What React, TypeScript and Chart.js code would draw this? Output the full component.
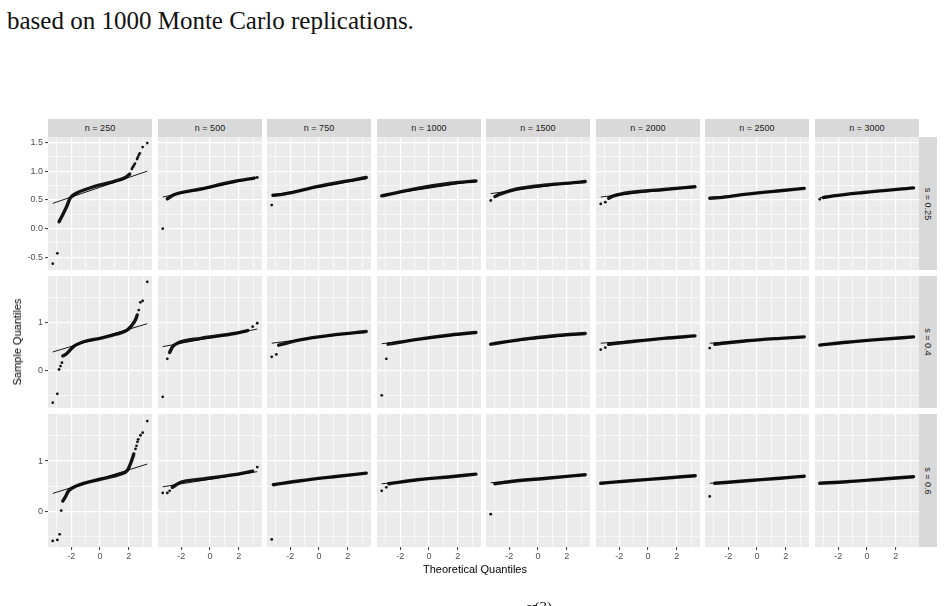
import React, { useEffect, useRef } from "react";
import { Chart, registerables } from "chart.js";

Chart.register(...registerables);

// Facet labels
const sampleSizeLabels = ["n = 250", "n = 500", "n = 750", "n = 1000", "n = 1500", "n = 2000", "n = 2500", "n = 3000"];
const shapeLabels = ["s = 0.25", "s = 0.4", "s = 0.6"];

// Shared theoretical-quantile axis
const xMajorTicks = [-2, 0, 2];
const xMinorTicks = [-3, -1, 1, 3];
const xRange = [-3.62, 3.62];

// Free sample-quantile axis per row
const yMajorTicks = [[-0.5, 0, 0.5, 1, 1.5], [0, 1], [0, 1]];
const yMinorTicks = [[-0.25, 0.25, 0.75, 1.25], [-0.5, 0.5, 1.5], [-0.5, 0.5, 1.5]];
const yTickLabels = [["-0.5", "0.0", "0.5", "1.0", "1.5"], ["0", "1"], ["0", "1"]];
const yRanges = [[-0.72, 1.595], [-0.76, 1.95], [-0.7, 1.93]];

type Pt = [number, number];

// s = 0.25 : dense central part of each QQ cloud, isolated tail points, reference line
const bodyS025: Pt[][] = [
  [[-2.85, 0.12], [-2.66, 0.21], [-2.31, 0.39], [-2.08, 0.53], [-1.61, 0.62], [-0.91, 0.69], [0, 0.76], [0.95, 0.82], [1.77, 0.89], [2.07, 0.95]],
  [[-2.97, 0.52], [-2.51, 0.59], [-0.64, 0.69], [1.69, 0.82], [3.08, 0.88]],
  [[-3.2, 0.58], [-2.47, 0.6], [-0.14, 0.73], [2.42, 0.85], [3.29, 0.89]],
  [[-3.29, 0.57], [-2.91, 0.59], [-0.81, 0.7], [1.52, 0.79], [3.27, 0.83]],
  [[-3.0, 0.56], [-2.64, 0.6], [-1.49, 0.69], [0.61, 0.76], [2.94, 0.81], [3.29, 0.82]],
  [[-2.74, 0.53], [-2.39, 0.57], [-1.22, 0.63], [1.1, 0.68], [3.27, 0.73]],
  [[-3.29, 0.53], [-2.59, 0.54], [-0.72, 0.6], [1.61, 0.66], [3.29, 0.7]],
  [[-3.05, 0.54], [-2.36, 0.57], [-0.26, 0.63], [3.24, 0.71]],
];
const tailS025: Pt[][] = [
  [[-3.29, -0.61], [-2.97, -0.43], [2.22, 1.04], [2.28, 1.07], [2.36, 1.1], [2.43, 1.13], [2.58, 1.21], [2.63, 1.24], [2.7, 1.28], [2.77, 1.31], [2.97, 1.42], [3.29, 1.49]],
  [[-3.29, 0.0], [3.29, 0.89]],
  [[-3.29, 0.41]],
  [],
  [[-3.29, 0.49]],
  [[-3.29, 0.43], [-2.97, 0.46]],
  [],
  [[-3.29, 0.51]],
];
const refS025: Pt[][] = [
  [[-3.29, 0.44], [3.29, 1.0]],
  [[-3.29, 0.55], [3.29, 0.89]],
  [[-3.29, 0.58], [3.29, 0.87]],
  [[-3.29, 0.58], [3.29, 0.83]],
  [[-3.29, 0.61], [3.29, 0.83]],
  [[-3.29, 0.55], [3.29, 0.73]],
  [[-3.29, 0.54], [3.29, 0.7]],
  [[-3.29, 0.54], [3.29, 0.71]],
];

// s = 0.4
const bodyS04: Pt[][] = [
  [[-2.59, 0.31], [-2.31, 0.36], [-1.85, 0.5], [-1.15, 0.6], [0, 0.67], [1.19, 0.76], [1.89, 0.84], [2.17, 0.92], [2.47, 1.05], [2.59, 1.15]],
  [[-2.81, 0.38], [-2.62, 0.49], [-2.27, 0.57], [-0.64, 0.67], [1.69, 0.77], [2.62, 0.83]],
  [[-2.81, 0.53], [-1.31, 0.64], [1.02, 0.74], [3.29, 0.81]],
  [[-2.85, 0.55], [-0.81, 0.65], [1.52, 0.74], [3.27, 0.79]],
  [[-3.29, 0.55], [-2.89, 0.57], [-0.56, 0.67], [1.77, 0.74], [3.29, 0.77]],
  [[-2.74, 0.55], [-1.22, 0.6], [1.1, 0.67], [3.27, 0.72]],
  [[-2.94, 0.55], [-0.72, 0.62], [1.61, 0.67], [3.29, 0.7]],
  [[-3.29, 0.53], [-1.42, 0.59], [0.91, 0.65], [3.24, 0.7]],
];
const tailS04: Pt[][] = [
  [[-3.29, -0.65], [-2.97, -0.47], [-2.85, 0.03], [-2.75, 0.1], [-2.65, 0.17], [2.7, 1.25], [2.81, 1.41], [2.97, 1.44], [3.29, 1.83]],
  [[-3.29, -0.53], [-2.97, 0.25], [2.97, 0.91], [3.29, 0.98]],
  [[-3.29, 0.29], [-2.97, 0.34]],
  [[-3.29, -0.5], [-2.97, 0.25]],
  [],
  [[-3.29, 0.44], [-2.97, 0.48]],
  [[-3.29, 0.47]],
  [],
];
const refS04: Pt[][] = [
  [[-3.29, 0.39], [3.29, 0.97]],
  [[-3.29, 0.5], [3.29, 0.86]],
  [[-3.29, 0.57], [3.29, 0.81]],
  [[-3.29, 0.56], [3.29, 0.79]],
  [[-3.29, 0.56], [3.29, 0.77]],
  [[-3.29, 0.57], [3.29, 0.72]],
  [[-3.29, 0.57], [3.29, 0.7]],
  [[-3.29, 0.54], [3.29, 0.7]],
];

// s = 0.6
const bodyS06: Pt[][] = [
  [[-2.59, 0.21], [-2.43, 0.28], [-2.19, 0.41], [-1.61, 0.51], [0, 0.64], [1.42, 0.74], [1.89, 0.81], [2.07, 0.91], [2.24, 1.04], [2.35, 1.14]],
  [[-2.62, 0.48], [-2.04, 0.58], [-0.64, 0.64], [1.69, 0.73], [2.97, 0.8]],
  [[-3.17, 0.53], [-1.31, 0.61], [1.02, 0.69], [3.29, 0.76]],
  [[-2.8, 0.55], [-0.81, 0.63], [1.52, 0.69], [3.27, 0.74]],
  [[-3.0, 0.55], [-1.73, 0.6], [0.61, 0.66], [3.29, 0.73]],
  [[-3.29, 0.56], [-1.22, 0.61], [1.1, 0.66], [3.29, 0.71]],
  [[-2.94, 0.56], [-0.72, 0.61], [1.61, 0.66], [3.29, 0.7]],
  [[-3.29, 0.56], [-1.42, 0.59], [0.91, 0.64], [3.24, 0.69]],
];
const tailS06: Pt[][] = [
  [[-3.29, -0.58], [-2.97, -0.56], [-2.81, -0.45], [-2.7, 0.02], [2.47, 1.24], [2.54, 1.3], [2.61, 1.38], [2.66, 1.43], [2.82, 1.51], [2.97, 1.56], [3.29, 1.79]],
  [[-3.29, 0.37], [-2.97, 0.37], [-2.81, 0.41], [3.29, 0.88]],
  [[-3.29, -0.55]],
  [[-3.29, 0.41], [-2.97, 0.48]],
  [[-3.29, -0.05]],
  [],
  [[-3.29, 0.3]],
  [],
];
const refS06: Pt[][] = [
  [[-3.29, 0.36], [3.29, 0.94]],
  [[-3.29, 0.49], [3.29, 0.79]],
  [[-3.29, 0.54], [3.29, 0.76]],
  [[-3.29, 0.55], [3.29, 0.75]],
  [[-3.29, 0.57], [3.29, 0.73]],
  [[-3.29, 0.56], [3.29, 0.71]],
  [[-3.29, 0.56], [3.29, 0.7]],
  [[-3.29, 0.56], [3.29, 0.69]],
];

const bodyByRow = [bodyS025, bodyS04, bodyS06];
const tailByRow = [tailS025, tailS04, tailS06];
const refByRow = [refS025, refS04, refS06];

// Layout (px)
const PANEL_W = 104;
const colLeft = (c: number) => Math.round(48 + c * 109.5);
const ROW_TOP = [137, 276, 414];
const ROW_H = [133, 132, 133];
const Y_AXIS_W = 48;
const X_AXIS_H = 22;
const STRIP_TOP = 119;
const STRIP_H = 18;

const SANS = "'Liberation Sans', Arial, Helvetica, sans-serif";

const near = (list: number[], v: number) => list.some((m) => Math.abs(m - v) < 1e-9);

const panelBackground = {
  id: "panelBackground",
  beforeDraw(chart: any) {
    const { ctx, chartArea: a } = chart;
    ctx.save();
    ctx.fillStyle = "#EBEBEB";
    ctx.fillRect(a.left, a.top, a.right - a.left, a.bottom - a.top);
    ctx.restore();
  },
};

const toXY = (pts: Pt[]) => pts.map(([x, y]) => ({ x, y }));

function Panel({ row, col }: { row: number; col: number }) {
  const ref = useRef<HTMLCanvasElement | null>(null);
  const isLeft = col === 0;
  const isBottom = row === 2;
  const left = isLeft ? colLeft(0) - Y_AXIS_W : colLeft(col);
  const width = PANEL_W + (isLeft ? Y_AXIS_W : 0);
  const height = ROW_H[row] + (isBottom ? X_AXIS_H : 0);

  useEffect(() => {
    if (!ref.current) return;
    const yMaj = yMajorTicks[row];
    const yMin = yMinorTicks[row];
    const yAll = [...yMaj, ...yMin].sort((a, b) => a - b);
    const xAll = [...xMajorTicks, ...xMinorTicks].sort((a, b) => a - b);

    const chart = new Chart(ref.current, {
      type: "scatter",
      data: {
        datasets: [
          {
            type: "line",
            data: toXY(refByRow[row][col]),
            borderColor: "#000000",
            borderWidth: 0.9,
            pointRadius: 0,
            clip: false,
          } as any,
          {
            type: "line",
            data: toXY(bodyByRow[row][col]),
            borderColor: "#141414",
            borderWidth: 3.4,
            pointRadius: 0,
            cubicInterpolationMode: "monotone",
            borderCapStyle: "round",
            borderJoinStyle: "round",
            clip: false,
          } as any,
          {
            data: toXY(tailByRow[row][col]),
            backgroundColor: "#141414",
            borderWidth: 0,
            pointRadius: 1.4,
            clip: false,
          } as any,
        ],
      },
      options: {
        animation: false,
        responsive: false,
        devicePixelRatio: 1,
        events: [],
        layout: { padding: 0, autoPadding: false },
        plugins: { legend: { display: false }, tooltip: { enabled: false } },
        scales: {
          x: {
            type: "linear",
            min: xRange[0],
            max: xRange[1],
            afterBuildTicks: (s: any) => {
              s.ticks = xAll.map((v) => ({ value: v }));
            },
            afterFit: (s: any) => {
              s.height = isBottom ? X_AXIS_H : 0;
              s.paddingLeft = 0;
              s.paddingRight = 0;
              s.paddingTop = 0;
              s.paddingBottom = 0;
            },
            border: { display: false },
            grid: {
              color: "#FFFFFF",
              lineWidth: (ctx: any) => (ctx.tick && near(xMajorTicks, ctx.tick.value) ? 1.2 : 0.6),
              drawTicks: isBottom,
              tickLength: 3,
              tickWidth: 1,
              tickColor: (ctx: any) => (ctx.tick && near(xMajorTicks, ctx.tick.value) ? "#333333" : "rgba(0,0,0,0)"),
            },
            ticks: {
              display: isBottom,
              autoSkip: false,
              maxRotation: 0,
              minRotation: 0,
              padding: 1,
              color: "#4D4D4D",
              font: { family: SANS, size: 9 },
              callback: (v: any) => (near(xMajorTicks, Number(v)) ? String(v) : ""),
            },
          },
          y: {
            type: "linear",
            min: yRanges[row][0],
            max: yRanges[row][1],
            afterBuildTicks: (s: any) => {
              s.ticks = yAll.map((v) => ({ value: v }));
            },
            afterFit: (s: any) => {
              s.width = isLeft ? Y_AXIS_W : 0;
              s.paddingLeft = 0;
              s.paddingRight = 0;
              s.paddingTop = 0;
              s.paddingBottom = 0;
            },
            border: { display: false },
            grid: {
              color: "#FFFFFF",
              lineWidth: (ctx: any) => (ctx.tick && near(yMaj, ctx.tick.value) ? 1.2 : 0.6),
              drawTicks: isLeft,
              tickLength: 3,
              tickWidth: 1,
              tickColor: (ctx: any) => (ctx.tick && near(yMaj, ctx.tick.value) ? "#333333" : "rgba(0,0,0,0)"),
            },
            ticks: {
              display: isLeft,
              autoSkip: false,
              padding: 2,
              color: "#4D4D4D",
              font: { family: SANS, size: 9 },
              callback: (v: any) => {
                const i = yMaj.findIndex((m) => Math.abs(m - Number(v)) < 1e-9);
                return i >= 0 ? yTickLabels[row][i] : "";
              },
            },
          },
        },
      },
      plugins: [panelBackground],
    } as any);
    return () => chart.destroy();
  }, [row, col]);

  return (
    <div style={{ position: "absolute", left, top: ROW_TOP[row], width, height }}>
      <canvas ref={ref} width={width} height={height} style={{ display: "block", width, height }} />
    </div>
  );
}

export default function App() {
  return (
    <div
      style={{
        position: "fixed",
        left: 0,
        top: 0,
        width: 947,
        height: 606,
        overflow: "hidden",
        background: "#FFFFFF",
      }}
    >
      <div
        style={{
          position: "absolute",
          left: 7,
          top: 8,
          fontFamily: "'Liberation Serif', 'DejaVu Serif', serif",
          fontSize: 25,
          lineHeight: "25px",
          color: "#111",
          whiteSpace: "nowrap",
        }}
      >
        based on 1000 Monte Carlo replications.
      </div>

      {sampleSizeLabels.map((label, c) => (
        <div
          key={label}
          style={{
            position: "absolute",
            left: colLeft(c),
            top: STRIP_TOP,
            width: PANEL_W,
            height: STRIP_H,
            background: "#D9D9D9",
            color: "#1A1A1A",
            fontFamily: SANS,
            fontSize: 9,
            lineHeight: `${STRIP_H}px`,
            textAlign: "center",
          }}
        >
          {label}
        </div>
      ))}

      {shapeLabels.map((label, r) => (
        <div
          key={label}
          style={{
            position: "absolute",
            left: colLeft(7) + PANEL_W,
            top: ROW_TOP[r],
            width: STRIP_H,
            height: ROW_H[r],
            background: "#D9D9D9",
          }}
        >
          <div
            style={{
              position: "absolute",
              left: "50%",
              top: "50%",
              transform: "translate(-50%, -50%) rotate(90deg)",
              whiteSpace: "nowrap",
              color: "#1A1A1A",
              fontFamily: SANS,
              fontSize: 9,
            }}
          >
            {label}
          </div>
        </div>
      ))}

      {shapeLabels.map((_, r) =>
        sampleSizeLabels.map((__, c) => <Panel key={`${r}-${c}`} row={r} col={c} />)
      )}

      <div
        style={{
          position: "absolute",
          left: 17,
          top: 342,
          transform: "translate(-50%, -50%) rotate(-90deg)",
          whiteSpace: "nowrap",
          fontFamily: SANS,
          fontSize: 11,
          color: "#000",
        }}
      >
        Sample Quantiles
      </div>
      <div
        style={{
          position: "absolute",
          left: 475,
          top: 569,
          transform: "translate(-50%, -50%)",
          whiteSpace: "nowrap",
          fontFamily: SANS,
          fontSize: 11,
          color: "#000",
        }}
      >
        Theoretical Quantiles
      </div>

      <div
        style={{
          position: "absolute",
          left: 524,
          top: 596,
          fontFamily: "'Liberation Serif', 'DejaVu Serif', serif",
          fontSize: 22,
          lineHeight: "22px",
          color: "#111",
          whiteSpace: "nowrap",
        }}
      >
        {"\u03B8\u0302"}
        <sup style={{ fontSize: 15 }}>(3)</sup>
      </div>
    </div>
  );
}
